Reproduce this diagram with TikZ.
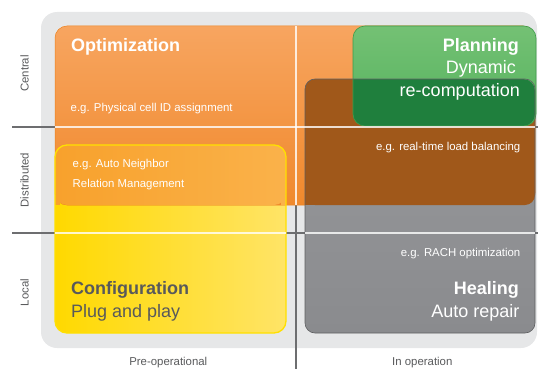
\documentclass[tikz,border=0pt]{standalone}
\usepackage{fontspec}
\setmainfont{Liberation Sans}
\definecolor{bggray}{HTML}{E6E7E8}
\definecolor{linegray}{HTML}{6D6E70}
\definecolor{txtgray}{HTML}{58595B}
\definecolor{orangeTop}{HTML}{F7A560}
\definecolor{orangeBot}{HTML}{F0892C}
\definecolor{orangeEdge}{HTML}{EC8220}
\definecolor{yellowL}{HTML}{FFD900}
\definecolor{yellowR}{HTML}{FFE467}
\definecolor{yellowEdge}{HTML}{FFE000}
\definecolor{ovlL}{HTML}{F8A12C}
\definecolor{ovlR}{HTML}{FAB24A}
\definecolor{healTop}{HTML}{98999C}
\definecolor{healBot}{HTML}{8A8B8E}
\definecolor{healEdge}{HTML}{5E5F61}
\definecolor{brownC}{HTML}{A0581A}
\definecolor{greenTop}{HTML}{74C174}
\definecolor{greenBot}{HTML}{55B25E}
\definecolor{greenDark}{HTML}{1F7F3D}
\definecolor{greenEdge}{HTML}{3E9C4A}
\tikzset{
  bigtitle/.style={font=\fontsize{18}{18}\selectfont\bfseries, inner sep=0pt},
  bigsub/.style={font=\fontsize{18}{18}\selectfont, inner sep=0pt},
  small/.style={font=\fontsize{11.4}{11.4}\selectfont, inner sep=0pt},
  darkline/.style={draw=linegray, line width=1.2pt},
  whiteline/.style={draw=white, opacity=0.8, line width=1.1pt},
}
\begin{document}
\begin{tikzpicture}[x=1pt,y=-1pt]
\useasboundingbox (0,0) rectangle (538,369);
% background
\fill[bggray, rounded corners=16pt] (41,12) rectangle (537,348);
% dark axis lines
\draw[darkline] (12,127) coordinate (hl1a) -- (538,127) coordinate (hl1b);
\draw[darkline] (12,233) coordinate (hl2a) -- (538,233) coordinate (hl2b);
\draw[darkline] (296,26) coordinate (vla) -- (296,369) coordinate (vlb);
% configuration (yellow)
\path[left color=yellowL, right color=yellowR, rounded corners=12pt] (55,145) rectangle (286,333);
% optimization (orange)
\path[top color=orangeTop, bottom color=orangeBot, draw=orangeEdge, line width=0.5pt, rounded corners=12pt] (55,26) rectangle (535,205);
% overlap orange/yellow
\path[left color=ovlL, right color=ovlR, rounded corners=12pt] (55,145) -- (55,205) -- (286,205) -- (286,145) -- cycle;
\fill[ovlL] (55,195) rectangle (60,205);
\fill[ovlR] (281,195) rectangle (286,205);
% healing (gray)
\path[top color=healTop, bottom color=healBot, rounded corners=10pt] (305,79) rectangle (535,333);
% overlap healing/orange (brown)
\fill[brownC, rounded corners=10pt] (305,79) rectangle (535,205);
\fill[brownC] (305,195) rectangle (315,205);
% planning (green)
\path[top color=greenTop, bottom color=greenBot, rounded corners=12pt] (353,26) rectangle (536,126);
\fill[greenDark, rounded corners=12pt] (353,79) rectangle (535,126);
\fill[greenDark] (353,79) rectangle (365,90);
\draw[greenEdge, line width=0.6pt, rounded corners=12pt] (353,26) rectangle (536,126);
% outlines
\draw[healEdge, line width=0.6pt, rounded corners=10pt] (305,79) rectangle (535,333);
\draw[yellowEdge, line width=1.3pt, rounded corners=12pt] (55,145) rectangle (286,333);
% white lines over boxes
\draw[whiteline] (55,127) -- (535,127);
\draw[whiteline] (55,233) -- (286,233);
\draw[whiteline] (305,233) -- (535,233);
\draw[whiteline] (296,26) -- (296,205);
% texts
\node[bigtitle, white, anchor=base west] (opt) at (71,52) {Optimization};
\node[small, white, anchor=base west] (optex) at (70.5,111) {e.g. Physical cell ID assignment};
\node[bigtitle, white, anchor=base east] (plan) at (519,52) {Planning};
\node[bigsub, white, anchor=base east] (plan2) at (516,74) {Dynamic};
\node[bigsub, white, anchor=base east] (plan3) at (520,96) {re-computation};
\node[small, white, anchor=base east] (rt) at (520.5,150) {e.g. real-time load balancing};
\node[small, white, anchor=base west] (anr1) at (72.5,167.5) {e.g. Auto Neighbor};
\node[small, white, anchor=base west] (anr2) at (72.5,187.5) {Relation Management};
\node[small, white, anchor=base east] (rach) at (520.5,256.5) {e.g. RACH optimization};
\node[bigtitle, txtgray, anchor=base west] (conf) at (71,294) {Configuration};
\node[bigsub, txtgray, anchor=base west] (conf2) at (71,317) {Plug and play};
\node[bigtitle, white, anchor=base east] (heal) at (519,294) {Healing};
\node[bigsub, white, anchor=base east] (heal2) at (519.5,317) {Auto repair};
% axis labels
\node[small, txtgray, rotate=90] (central) at (24.5,73.5) {Central};
\node[small, txtgray, rotate=90] (distr) at (24.5,180) {Distributed};
\node[small, txtgray, rotate=90] (local) at (24.5,292.5) {Local};
\node[small, txtgray, anchor=base] (preop) at (168.3,365.5) {Pre-operational};
\node[small, txtgray, anchor=base] (inop) at (422.3,365.5) {In operation};
\end{tikzpicture}
\end{document}
